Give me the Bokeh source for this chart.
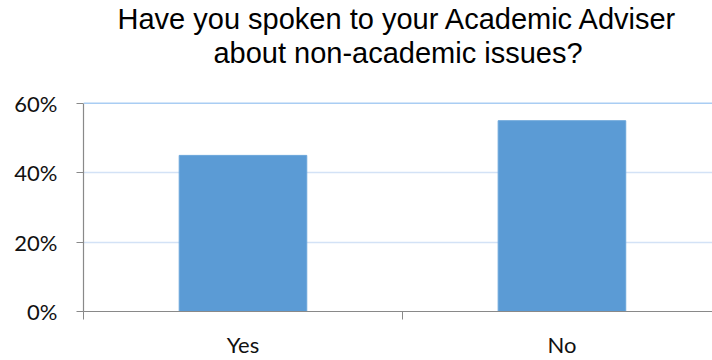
from bokeh.plotting import figure
from bokeh.models import Range1d, FixedTicker, Span, Title
from bokeh.embed import file_html
from bokeh.resources import INLINE

# ---- data ----
categories = ["Yes", "No"]
values = [45, 55]           # percent
y_ticks = [0, 20, 40, 60]
y_tick_labels = ["0%", "20%", "40%", "60%"]
title_lines = ["Have you spoken to your Academic Adviser", "about non-academic issues?"]

x_pos = [i + 0.5 for i in range(len(categories))]

p = figure(width=712, height=360, output_backend="svg", toolbar_location=None,
           x_range=Range1d(0, 1.972), y_range=Range1d(0, 70.05),
           min_border_left=83, min_border_right=0, min_border_top=0, min_border_bottom=47)
p.outline_line_color = None
p.background_fill_color = "white"
p.border_fill_color = "white"

p.vbar(x=x_pos, top=values, width=0.4, bottom=0,
       fill_color="#5B9BD5", line_color="#6AA5DA", line_width=1)

# grid
p.xgrid.grid_line_color = None
p.ygrid.ticker = FixedTicker(ticks=[20, 40])
p.ygrid.grid_line_color = "#D3E2F6"
p.ygrid.grid_line_width = 1.5
p.add_layout(Span(location=60, dimension="width", line_color="#A9CDF3", line_width=1.5))

# y axis
ya = p.yaxis[0]
ya.ticker = FixedTicker(ticks=y_ticks)
ya.bounds = (0, 60)
ya.major_label_overrides = {t: l for t, l in zip(y_ticks, y_tick_labels)}
ya.axis_line_color = "#898989"
ya.axis_line_width = 1.2
ya.major_tick_line_color = "#898989"
ya.major_tick_in = 0
ya.major_tick_out = 7
ya.minor_tick_line_color = None
ya.major_label_standoff = 19
ya.major_label_text_font = "Lato"
ya.major_label_text_font_size = "22px"
ya.major_label_text_color = "#111111"

# x axis
xa = p.xaxis[0]
xa.ticker = FixedTicker(ticks=x_pos, minor_ticks=[0, 1, 2])
xa.major_label_overrides = {x: c for x, c in zip(x_pos, categories)}
xa.axis_line_color = "#898989"
xa.axis_line_width = 1.2
xa.major_tick_line_color = None
xa.major_tick_in = 0
xa.major_tick_out = 0
xa.minor_tick_line_color = "#898989"
xa.minor_tick_in = 0
xa.minor_tick_out = 8
xa.major_label_standoff = 11
xa.major_label_text_font = "Lato"
xa.major_label_text_font_size = "22px"
xa.major_label_text_color = "#111111"

# title (two lines) - the first added sits nearest to the plot
p.title.visible = False
for line in [title_lines[1], title_lines[0]]:
    p.add_layout(Title(text=line, align="center", offset=-26,
                       text_font="Liberation Sans", text_font_size="29px",
                       text_font_style="normal", text_color="#000000",
                       standoff=0), "above")

open("out.html", "w").write(file_html(p, INLINE))
